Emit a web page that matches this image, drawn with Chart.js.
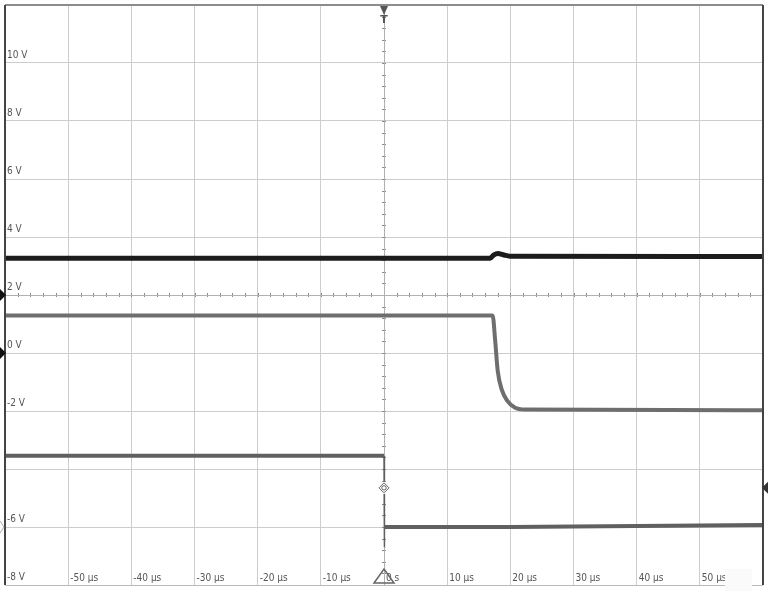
<!DOCTYPE html>
<html>
<head>
<meta charset="utf-8">
<script src="https://cdn.jsdelivr.net/npm/chart.js@4"></script>
<style>
  html, body { margin: 0; padding: 0; background: #fff; }
  #wrap { width: 768px; height: 591px; position: relative; }
</style>
</head>
<body>
<div id="wrap"><canvas id="scope"></canvas></div>
<script>
const xTickValues = [-50, -40, -30, -20, -10, 0, 10, 20, 30, 40, 50];
const xTickLabels = ['-50 µs', '-40 µs', '-30 µs', '-20 µs', '-10 µs', '0 s', '10 µs', '20 µs', '30 µs', '40 µs', '50 µs'];
// (-4 V est caché par la trace sur l'écran d'origine)
const yTickValues = [10, 8, 6, 4, 2, 0, -2, -6, -8];
const yTickLabels = ['10 V', '8 V', '6 V', '4 V', '2 V', '0 V', '-2 V', '-6 V', '-8 V'];

// voie 1 (noire)
const ch1Time = [-60, 16.8, 17.4, 18.0, 19.0, 19.9, 60];
const ch1Volt = [3.27, 3.27, 3.38, 3.43, 3.38, 3.34, 3.33];

// voie 2 (grise, en haut)
const ch2Time = [-60, 17.2, 17.6, 18.0, 18.7, 19.5, 20.7, 22.3, 60];
const ch2Volt = [1.29, 1.29, 0.43, -0.61, -1.3, -1.64, -1.88, -1.95, -1.97];

// voie 3 (grise, en bas)
const ch3Time = [-60, 0, 0.02, 0.12, 0.4, 20, 60];
const ch3Volt = [-3.54, -3.54, -6.7, -6.0, -6.0, -6.0, -5.93];

// repères
const triggerLevel = -4.65;
const leftMarkers = [2, 0];
const leftMarkerFaint = -6;

function toPoints(xs, ys) {
  return xs.map((x, i) => ({ x: x, y: ys[i] }));
}

// front raide : trait fin
function edgeWidth(wide) {
  return c => (Math.abs(c.p1.parsed.x - c.p0.parsed.x) < 0.2 ? 1.5 : wide);
}

const labelFont = '10px "Liberation Sans Narrow", "DejaVu Sans Condensed", sans-serif';

// plugin : bordures, petites graduations et étiquettes dans la zone
const scopeDecor = {
  id: 'scopeDecor',
  beforeDatasetsDraw(chart) {
    const { ctx, chartArea: a, scales: { x, y } } = chart;
    ctx.save();
    // graduations secondaires sur les axes centraux
    const cx = x.getPixelForValue(0);
    const cy = y.getPixelForValue(2);
    ctx.strokeStyle = '#8a8a8a';
    ctx.lineWidth = 1;
    ctx.beginPath();
    for (let v = -8; v <= 12.001; v += 0.4) {
      const py = Math.round(y.getPixelForValue(v)) + 0.5;
      ctx.moveTo(cx - 2, py); ctx.lineTo(cx + 2, py);
    }
    for (let t = -60; t <= 60.001; t += 2) {
      const px = Math.round(x.getPixelForValue(t)) + 0.5;
      ctx.moveTo(px, cy - 2); ctx.lineTo(px, cy + 2);
    }
    ctx.stroke();
    ctx.strokeStyle = '#b0b0b0';
    ctx.beginPath();
    ctx.moveTo(Math.round(cx) + 0.5, a.top); ctx.lineTo(Math.round(cx) + 0.5, a.bottom);
    ctx.moveTo(a.left, Math.round(cy) + 0.5); ctx.lineTo(a.right, Math.round(cy) + 0.5);
    ctx.stroke();

    // étiquettes
    ctx.font = labelFont;
    ctx.fillStyle = '#555';
    ctx.textAlign = 'left';
    ctx.textBaseline = 'alphabetic';
    yTickValues.forEach((v, i) => {
      ctx.fillText(yTickLabels[i], a.left + 2, y.getPixelForValue(v) - 5);
    });
    xTickValues.forEach((v, i) => {
      ctx.fillText(xTickLabels[i], x.getPixelForValue(v) + 2, a.bottom - 4);
    });
    ctx.restore();
  },
  afterDatasetsDraw(chart) {
    const { ctx, chartArea: a, scales: { x, y } } = chart;
    ctx.save();
    // bordure
    ctx.lineWidth = 2;
    ctx.strokeStyle = '#8c8c8c';
    ctx.beginPath();
    ctx.moveTo(a.left, a.top); ctx.lineTo(a.right, a.top);
    ctx.stroke();
    ctx.strokeStyle = '#444';
    ctx.beginPath();
    ctx.moveTo(a.left, a.top); ctx.lineTo(a.left, a.bottom);
    ctx.moveTo(a.right, a.top); ctx.lineTo(a.right, a.bottom);
    ctx.stroke();
    ctx.lineWidth = 1;
    ctx.strokeStyle = '#bbb';
    ctx.beginPath();
    ctx.moveTo(a.left, a.bottom + 0.5); ctx.lineTo(a.right, a.bottom + 0.5);
    ctx.stroke();

    const cx = x.getPixelForValue(0);

    // marqueur de déclenchement en haut
    ctx.fillStyle = '#555';
    ctx.beginPath();
    ctx.moveTo(cx - 4, a.top + 1); ctx.lineTo(cx + 4, a.top + 1); ctx.lineTo(cx, a.top + 10);
    ctx.closePath(); ctx.fill();
    ctx.font = 'bold 11px "DejaVu Sans", sans-serif';
    ctx.textAlign = 'center';
    ctx.textBaseline = 'top';
    ctx.fillText('T', cx, a.top + 10);

    // marqueurs de masse à gauche
    ctx.fillStyle = '#111';
    leftMarkers.forEach(v => {
      const py = y.getPixelForValue(v);
      ctx.beginPath();
      ctx.moveTo(0, py - 6); ctx.lineTo(a.left + 1, py); ctx.lineTo(0, py + 6);
      ctx.closePath(); ctx.fill();
    });
    ctx.strokeStyle = '#aaa';
    ctx.lineWidth = 1;
    const pf = y.getPixelForValue(leftMarkerFaint);
    ctx.beginPath();
    ctx.moveTo(0, pf - 6); ctx.lineTo(a.left - 1, pf); ctx.lineTo(0, pf + 6);
    ctx.stroke();

    // niveau de déclenchement à droite
    const pt = y.getPixelForValue(triggerLevel);
    ctx.fillStyle = '#333';
    ctx.beginPath();
    ctx.moveTo(768, pt - 6); ctx.lineTo(a.right - 1, pt); ctx.lineTo(768, pt + 6);
    ctx.closePath(); ctx.fill();

    // point de déclenchement (losange)
    ctx.fillStyle = '#fff';
    ctx.fillRect(cx - 6, pt - 6, 12, 12);
    ctx.strokeStyle = '#666';
    ctx.lineWidth = 1;
    ctx.beginPath();
    ctx.moveTo(cx, pt - 5); ctx.lineTo(cx + 5, pt); ctx.lineTo(cx, pt + 5); ctx.lineTo(cx - 5, pt);
    ctx.closePath(); ctx.stroke();
    ctx.beginPath();
    ctx.arc(cx, pt, 2.2, 0, Math.PI * 2);
    ctx.stroke();

    // triangle en bas
    ctx.strokeStyle = '#666';
    ctx.lineWidth = 1.5;
    ctx.beginPath();
    ctx.moveTo(cx, a.bottom - 16); ctx.lineTo(cx + 10, a.bottom - 2); ctx.lineTo(cx - 10, a.bottom - 2);
    ctx.closePath(); ctx.stroke();

    // cache blanc en bas à droite
    ctx.fillStyle = '#fafafa';
    ctx.fillRect(a.right - 38, a.bottom - 16, 27, 22);
    ctx.restore();
  }
};

const ctx = document.getElementById('scope').getContext('2d');
new Chart(ctx, {
  type: 'line',
  data: {
    datasets: [
      {
        label: 'CH3',
        data: toPoints(ch3Time, ch3Volt),
        borderColor: '#606060',
        borderWidth: 4,
        segment: { borderWidth: edgeWidth(4) },
        pointRadius: 0,
        tension: 0
      },
      {
        label: 'CH2',
        data: toPoints(ch2Time, ch2Volt),
        borderColor: '#6e6e6e',
        borderWidth: 4,
        pointRadius: 0,
        cubicInterpolationMode: 'monotone'
      },
      {
        label: 'CH1',
        data: toPoints(ch1Time, ch1Volt),
        borderColor: '#1c1c1c',
        borderWidth: 5,
        pointRadius: 0,
        cubicInterpolationMode: 'monotone'
      }
    ]
  },
  options: {
    responsive: true,
    maintainAspectRatio: false,
    animation: false,
    layout: { padding: { left: 5, top: 5, right: 5, bottom: 6 } },
    plugins: {
      legend: { display: false },
      tooltip: { enabled: false }
    },
    scales: {
      x: {
        type: 'linear',
        min: -60,
        max: 60,
        ticks: { stepSize: 10, display: false },
        grid: { color: '#cdcdcd', drawTicks: false },
        border: { display: false }
      },
      y: {
        type: 'linear',
        min: -8,
        max: 12,
        ticks: { stepSize: 2, display: false },
        grid: { color: '#cdcdcd', drawTicks: false },
        border: { display: false }
      }
    }
  },
  plugins: [scopeDecor]
});
</script>
</body>
</html>
